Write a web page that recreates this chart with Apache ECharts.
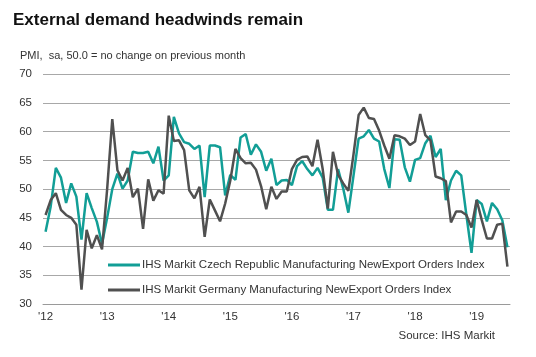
<!DOCTYPE html>
<html>
<head>
<meta charset="utf-8">
<script src="https://cdn.jsdelivr.net/npm/echarts@6/dist/echarts.min.js"></script>
<style>
  html, body { margin: 0; padding: 0; background: #fff; }
  #chart { width: 536px; height: 357px; }
</style>
</head>
<body>
<div id="chart"></div>
<script>
// Year tick labels (one per January)
const yearLabels = ["'12", "'13", "'14", "'15", "'16", "'17", "'18", "'19"];
// Monthly observations Jan 2012 .. Jul 2019
const czech = [
  42.6, 47.0, 53.7, 52.0, 47.6, 51.0, 48.7, 41.2, 49.3, 46.7, 44.3, 40.5,
  45.0, 50.0, 52.7, 50.1, 51.5, 56.5, 56.3, 56.3, 56.5, 54.5, 57.4, 51.5,
  52.4, 62.6, 59.7, 58.2, 57.9, 57.0, 57.6, 48.6, 57.6, 57.6, 57.3, 48.9,
  52.5, 51.6, 59.0, 59.6, 56.0, 57.8, 56.5, 53.2, 55.3, 50.7, 51.5, 51.6,
  50.7, 54.0, 54.9, 53.5, 52.4, 53.7, 52.0, 46.4, 46.4, 53.5, 50.1, 45.9,
  52.3, 58.8, 59.2, 60.3, 58.8, 58.3, 53.5, 50.2, 58.7, 58.6, 53.8, 51.3,
  55.1, 55.4, 58.0, 59.3, 55.6, 57.0, 48.1, 51.5, 53.2, 52.4, 45.5, 38.9,
  48.1, 47.4, 44.4, 47.6, 46.5, 44.6, 39.9
];
const germany = [
  45.5, 48.1, 49.3, 46.4, 45.5, 45.0, 43.8, 32.5, 42.9, 39.7, 42.0, 39.5,
  50.0, 62.2, 53.3, 51.5, 53.7, 48.6, 50.1, 43.1, 51.7, 48.0, 49.8, 49.2,
  62.8, 58.4, 58.5, 56.8, 49.8, 48.4, 50.4, 41.7, 48.2, 46.3, 44.4, 47.5,
  51.5, 57.0, 55.4, 54.5, 54.6, 53.4, 50.5, 46.5, 50.4, 48.3, 49.6, 49.6,
  53.5, 55.1, 55.6, 55.7, 54.0, 58.6, 53.5, 46.6, 56.5, 52.5, 51.0, 49.7,
  56.0, 62.9, 64.2, 62.4, 62.2, 60.2, 57.6, 55.3, 59.4, 59.2, 58.8, 57.7,
  58.3, 63.1, 59.4, 58.5, 52.2, 51.9, 51.4, 44.2, 46.1, 46.1, 45.5, 43.3,
  48.1, 44.6, 41.4, 41.4, 43.8, 44.0, 36.5
];
const seriesNames = [
  'IHS Markit Czech Republic Manufacturing NewExport Orders Index',
  'IHS Markit Germany Manufacturing NewExport Orders Index'
];

// Month categories built from year labels
const months = [];
yearLabels.forEach(function (y) {
  for (let m = 1; m <= 12; m++) months.push(y + '-' + m);
});
const cats = months.slice(0, czech.length);

const FONT = '"Liberation Sans", Arial, sans-serif';
const chart = echarts.init(document.getElementById('chart'), null, { renderer: 'canvas' });
chart.setOption({
  animation: false,
  backgroundColor: '#ffffff',
  textStyle: { fontFamily: FONT },
  title: [
    {
      text: 'External demand headwinds remain',
      left: 8, top: 7,
      textStyle: { fontFamily: FONT, fontSize: 17, fontWeight: 'bold', color: '#111' }
    },
    {
      text: 'PMI,  sa, 50.0 = no change on previous month',
      left: 15, top: 45,
      textStyle: { fontFamily: FONT, fontSize: 11, fontWeight: 'normal', color: '#333' }
    },
    {
      text: 'Source: IHS Markit',
      right: 36, top: 325,
      textStyle: { fontFamily: FONT, fontSize: 11.5, fontWeight: 'normal', color: '#333' }
    }
  ],
  legend: {
    orient: 'vertical',
    left: 103, top: 253,
    icon: 'rect',
    itemWidth: 32, itemHeight: 3,
    itemGap: 11,
    textStyle: { fontFamily: FONT, fontSize: 11.5, color: '#333', lineHeight: 14, padding: [0, 0, 0, -3] },
    data: seriesNames
  },
  grid: { left: 43, right: 26, top: 74.3, bottom: 53 },
  xAxis: {
    type: 'category',
    data: cats,
    boundaryGap: true,
    axisLine: { lineStyle: { color: '#9a9a9a', width: 1 } },
    axisTick: {
      length: 4,
      interval: function (i) { return i % 12 === 0; },
      lineStyle: { color: '#9a9a9a' }
    },
    axisLabel: {
      interval: function (i) { return i % 12 === 0; },
      formatter: function (v) { return v.split('-')[0]; },
      fontFamily: FONT, fontSize: 11.5, color: '#333', margin: 7
    },
    splitLine: { show: false }
  },
  yAxis: {
    type: 'value',
    min: 30, max: 70, interval: 5,
    axisLine: { show: false },
    axisTick: { show: false },
    axisLabel: { fontFamily: FONT, fontSize: 11.5, color: '#333', margin: 11 },
    splitLine: { lineStyle: { color: '#a8a8a8', width: 1 } }
  },
  series: [
    {
      name: seriesNames[0], type: 'line', data: czech,
      symbol: 'none', color: '#129e96',
      lineStyle: { width: 2.5, color: '#129e96' }
    },
    {
      name: seriesNames[1], type: 'line', data: germany,
      symbol: 'none', color: '#505050',
      lineStyle: { width: 2.5, color: '#505050' }
    }
  ]
});
</script>
</body>
</html>
